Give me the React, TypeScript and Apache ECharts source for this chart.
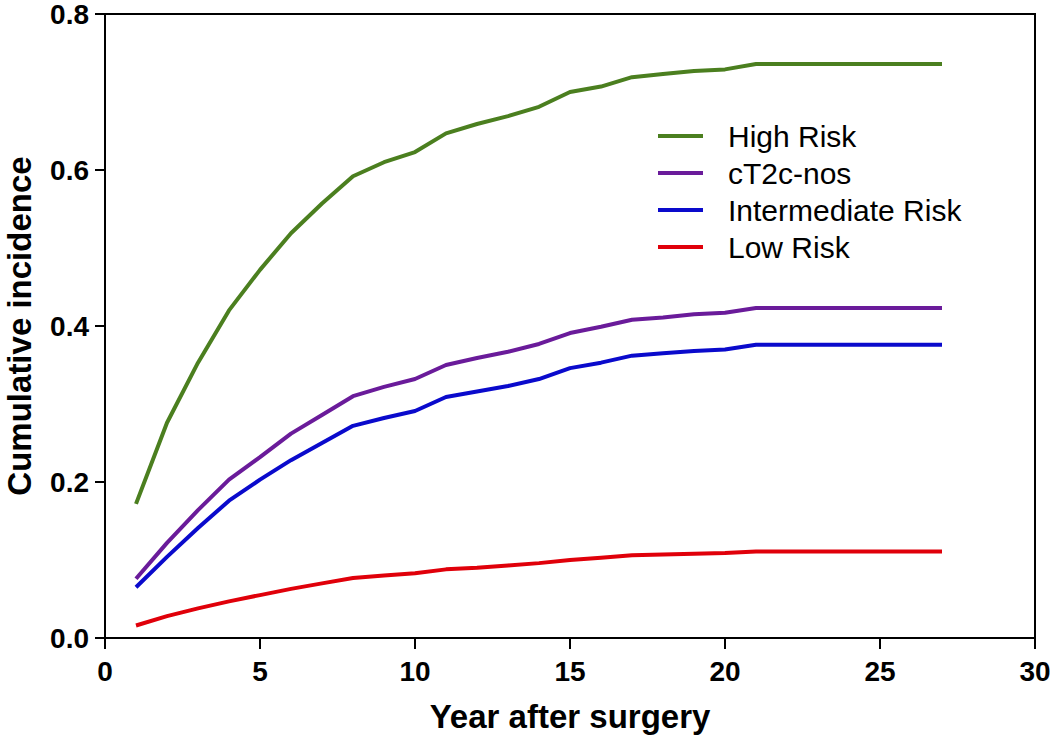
import React, { useEffect, useRef } from "react";
import * as echarts from "echarts";

const years = [1, 2, 3, 4, 5, 6, 7, 8, 9, 10, 11, 12, 13, 14, 15, 16, 17, 18, 19, 20, 21, 22, 23, 24, 25, 26, 27];

const highRisk = [0.172, 0.276, 0.353, 0.420, 0.472, 0.519, 0.557, 0.592, 0.610, 0.623, 0.647, 0.659, 0.669, 0.681, 0.700, 0.707, 0.719, 0.723, 0.727, 0.729, 0.736, 0.736, 0.736, 0.736, 0.736, 0.736, 0.736];
const cT2cNos = [0.076, 0.122, 0.164, 0.203, 0.232, 0.262, 0.286, 0.310, 0.322, 0.332, 0.350, 0.359, 0.367, 0.377, 0.391, 0.399, 0.408, 0.411, 0.415, 0.417, 0.423, 0.423, 0.423, 0.423, 0.423, 0.423, 0.423];
const intermediateRisk = [0.065, 0.104, 0.141, 0.176, 0.203, 0.228, 0.250, 0.272, 0.282, 0.291, 0.309, 0.316, 0.323, 0.332, 0.346, 0.353, 0.362, 0.365, 0.368, 0.370, 0.376, 0.376, 0.376, 0.376, 0.376, 0.376, 0.376];
const lowRisk = [0.016, 0.028, 0.038, 0.047, 0.055, 0.063, 0.070, 0.077, 0.080, 0.083, 0.088, 0.090, 0.093, 0.096, 0.100, 0.103, 0.106, 0.107, 0.108, 0.109, 0.111, 0.111, 0.111, 0.111, 0.111, 0.111, 0.111];

const seriesNames = ["High Risk", "cT2c-nos", "Intermediate Risk", "Low Risk"];
const seriesColors = ["#4B7F1F", "#6A1B9A", "#0A0ACC", "#E0000A"];
const seriesValues = [highRisk, cT2cNos, intermediateRisk, lowRisk];

const xTitle = "Year after surgery";
const yTitle = "Cumulative incidence";

export default function App() {
  const ref = useRef<HTMLDivElement>(null);

  useEffect(() => {
    if (!ref.current) return;
    const chart = echarts.init(ref.current, undefined, { renderer: "svg" });
    const font = "Arial, 'Liberation Sans', Helvetica, sans-serif";
    chart.setOption({
      animation: false,
      backgroundColor: "#fff",
      grid: {
        left: 105,
        right: 15,
        top: 14,
        bottom: 102,
        show: true,
        borderColor: "#000",
        borderWidth: 2,
        containLabel: false,
        outerBoundsMode: "none",
      },
      legend: {
        orient: "vertical",
        left: 653,
        top: 116,
        icon: "rect",
        itemWidth: 45,
        itemHeight: 4,
        itemGap: 7,
        data: seriesNames,
        textStyle: {
          fontFamily: font,
          fontSize: 30,
          color: "#000",
          lineHeight: 30,
          padding: [0, 0, 0, 20],
        },
      },
      xAxis: {
        type: "value",
        min: 0,
        max: 30,
        interval: 5,
        name: xTitle,
        nameLocation: "middle",
        nameGap: 62,
        nameTextStyle: { fontFamily: font, fontSize: 33, fontWeight: "bold", color: "#000" },
        axisLine: { show: true, lineStyle: { color: "#000", width: 2 } },
        axisTick: { show: true, inside: false, length: 11, lineStyle: { color: "#000", width: 2 } },
        axisLabel: { fontFamily: font, fontSize: 28, fontWeight: "bold", color: "#000", margin: 19 },
        splitLine: { show: false },
      },
      yAxis: {
        type: "value",
        min: 0,
        max: 0.8,
        interval: 0.2,
        name: yTitle,
        nameLocation: "middle",
        nameGap: 69,
        nameTextStyle: { fontFamily: font, fontSize: 33, fontWeight: "bold", color: "#000", lineHeight: 34 },
        axisLine: { show: true, lineStyle: { color: "#000", width: 2 } },
        axisTick: { show: true, inside: false, length: 10, lineStyle: { color: "#000", width: 2 } },
        axisLabel: {
          fontFamily: font,
          fontSize: 28,
          lineHeight: 24,
          fontWeight: "bold",
          color: "#000",
          margin: 16,
          formatter: (v: number) => v.toFixed(1),
        },
        splitLine: { show: false },
      },
      series: seriesNames.map((name, i) => ({
        name,
        type: "line",
        data: years.map((y, j) => [y, seriesValues[i][j]]),
        showSymbol: false,
        symbol: "none",
        color: seriesColors[i],
        lineStyle: { color: seriesColors[i], width: 4 },
        itemStyle: { color: seriesColors[i] },
      })),
    });
    return () => chart.dispose();
  }, []);

  return (
    <div
      ref={ref}
      style={{ position: "absolute", left: 0, top: 0, width: 1050, height: 740 }}
    />
  );
}
